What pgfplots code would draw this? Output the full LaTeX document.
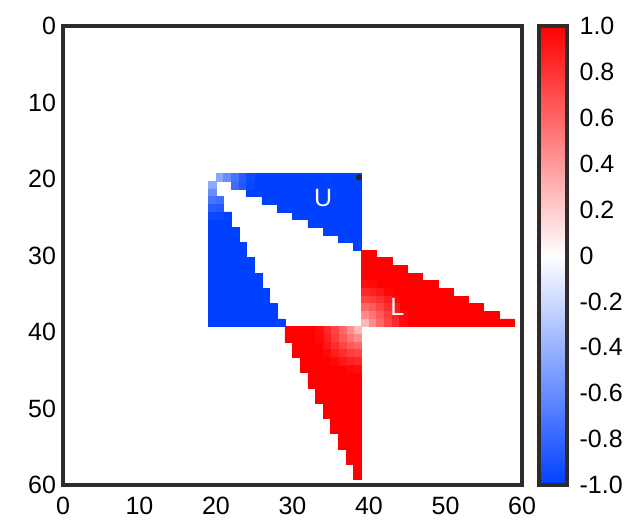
\documentclass[border=0pt]{standalone}
\usepackage{pgfplots}
\pgfplotsset{compat=1.18}
\usepackage{fontspec}
\setmainfont{Liberation Sans}
\definecolor{bwrblue}{RGB}{0,64,255}
\definecolor{bwrred}{RGB}{255,0,0}
\definecolor{framec}{RGB}{48,42,42}
\begin{document}
\begin{tikzpicture}
\begin{axis}[
  name=ax,
  scale only axis, width=229.5pt, height=229.5pt,
  xmin=0, xmax=60, ymin=0, ymax=60, y dir=reverse,
  enlargelimits=false,
  xtick={0,10,...,60}, ytick={0,10,...,60},
  major tick length=0pt,
  axis line style={line width=2pt, draw=framec},
  /pgf/number format/assume math mode=true,
  tick label style={font=\fontsize{12.5}{14}\selectfont},
  xticklabel style={yshift=-2.5pt},
  colormap={bwr}{rgb255=(0,64,255) rgb255=(255,255,255) rgb255=(255,0,0)},
  point meta min=-1, point meta max=1,
  colorbar,
  colorbar style={
    scale only axis,
    at={([xshift=9pt]parent axis.north east)}, anchor=north west,
    width=13.75pt, height=229.5pt,
    major tick length=0pt,
    axis line style={line width=2pt, draw=framec},
    ytick={-1,-0.8,-0.6,-0.4,-0.2,0,0.2,0.4,0.6,0.8,1},
    yticklabels={-1.0,-0.8,-0.6,-0.4,-0.2,0,0.2,0.4,0.6,0.8,1.0},
    yticklabel style={font=\fontsize{12.5}{14}\selectfont, xshift=3pt},
  },
]
% saturated parts of the four blocks (staircase outlines)
\addplot[fill=bwrblue, draw=bwrblue, line width=0.3pt] coordinates {
(39,19.3) (39,29.3) (38,29.3) (38,28.3) (36,28.3) (36,27.3) (34,27.3) (34,26.3)
(32,26.3) (32,25.3) (30,25.3) (30,24.3) (28,24.3) (28,23.3) (26,23.3) (26,22.3)
(24,22.3) (24,21.3) (22,21.3) (22,20.3) (20,20.3) (20,19.3)} -- cycle;
\addplot[fill=bwrblue, draw=bwrblue, line width=0.3pt] coordinates {
(19,20.3) (20,20.3) (20,22.3) (21,22.3) (21,24.3) (22,24.3) (22,26.3) (23,26.3)
(23,28.3) (24,28.3) (24,30.3) (25,30.3) (25,32.3) (26,32.3) (26,34.3) (27,34.3)
(27,36.3) (28,36.3) (28,38.3) (29,38.3) (29,39.3) (19,39.3)} -- cycle;
\addplot[fill=bwrred, draw=bwrred, line width=0.3pt] coordinates {
(39,29.3) (41,29.3) (41,30.3) (43,30.3) (43,31.3) (45,31.3) (45,32.3) (47,32.3)
(47,33.3) (49,33.3) (49,34.3) (51,34.3) (51,35.3) (53,35.3) (53,36.3) (55,36.3)
(55,37.3) (57,37.3) (57,38.3) (59,38.3) (59,39.3) (39,39.3)} -- cycle;
\addplot[fill=bwrred, draw=bwrred, line width=0.3pt] coordinates {
(29,39.3) (39,39.3) (39,59.3) (38,59.3) (38,57.3) (37,57.3) (37,55.3) (36,55.3)
(36,53.3) (35,53.3) (35,51.3) (34,51.3) (34,49.3) (33,49.3) (33,47.3) (32,47.3)
(32,45.3) (31,45.3) (31,43.3) (30,43.3) (30,41.3) (29,41.3)} -- cycle;
% cells that fade towards white near the block corners
\addplot[scatter, only marks, mark=square*, mark size=1.9125pt, line width=0.3pt,
  scatter/use mapped color={draw=mapped color, fill=mapped color},
  point meta=explicit] table[meta=v] {
x y v
20.5 19.8 -0.45
21.5 19.8 -0.60
22.5 19.8 -0.73
23.5 19.8 -0.85
24.5 19.8 -0.95
22.5 20.8 -0.76
23.5 20.8 -0.87
24.5 20.8 -0.97
19.5 20.8 -0.45
19.5 21.8 -0.60
19.5 22.8 -0.73
20.5 22.8 -0.76
19.5 23.8 -0.85
20.5 23.8 -0.87
19.5 24.8 -0.95
20.5 24.8 -0.97
39.5 33.8 0.95
40.5 33.8 0.97
39.5 34.8 0.85
40.5 34.8 0.87
41.5 34.8 0.91
42.5 34.8 0.97
39.5 35.8 0.73
40.5 35.8 0.76
41.5 35.8 0.82
42.5 35.8 0.89
43.5 35.8 0.97
39.5 36.8 0.60
40.5 36.8 0.65
41.5 36.8 0.73
42.5 36.8 0.82
43.5 36.8 0.91
39.5 37.8 0.45
40.5 37.8 0.54
41.5 37.8 0.65
42.5 37.8 0.76
43.5 37.8 0.87
44.5 37.8 0.97
39.5 38.8 0.28
40.5 38.8 0.45
41.5 38.8 0.60
42.5 38.8 0.73
43.5 38.8 0.85
44.5 38.8 0.95
38.5 39.8 0.28
37.5 39.8 0.45
36.5 39.8 0.60
35.5 39.8 0.73
34.5 39.8 0.85
33.5 39.8 0.95
38.5 40.8 0.45
37.5 40.8 0.54
36.5 40.8 0.65
35.5 40.8 0.76
34.5 40.8 0.87
33.5 40.8 0.97
38.5 41.8 0.60
37.5 41.8 0.65
36.5 41.8 0.73
35.5 41.8 0.82
34.5 41.8 0.91
38.5 42.8 0.73
37.5 42.8 0.76
36.5 42.8 0.82
35.5 42.8 0.89
34.5 42.8 0.97
38.5 43.8 0.85
37.5 43.8 0.87
36.5 43.8 0.91
35.5 43.8 0.97
38.5 44.8 0.95
37.5 44.8 0.97
};
\addplot[only marks, mark=*, mark size=1.3pt, color=black!85] coordinates {(38.7,19.8)};
\coordinate (Upos) at (axis cs:34,22.5);
\coordinate (Lpos) at (axis cs:43.7,36.7);
\end{axis}
\node[text=white, font=\fontsize{12.5}{14}\selectfont] at (Upos) {U};
\node[text=white, font=\fontsize{12.5}{14}\selectfont] at (Lpos) {L};
\pgfresetboundingbox
\path[use as bounding box] ([xshift=-31.5pt,yshift=-20.5pt]ax.south west) rectangle ([xshift=58.5pt,yshift=13pt]ax.north east);
\end{tikzpicture}
\end{document}
